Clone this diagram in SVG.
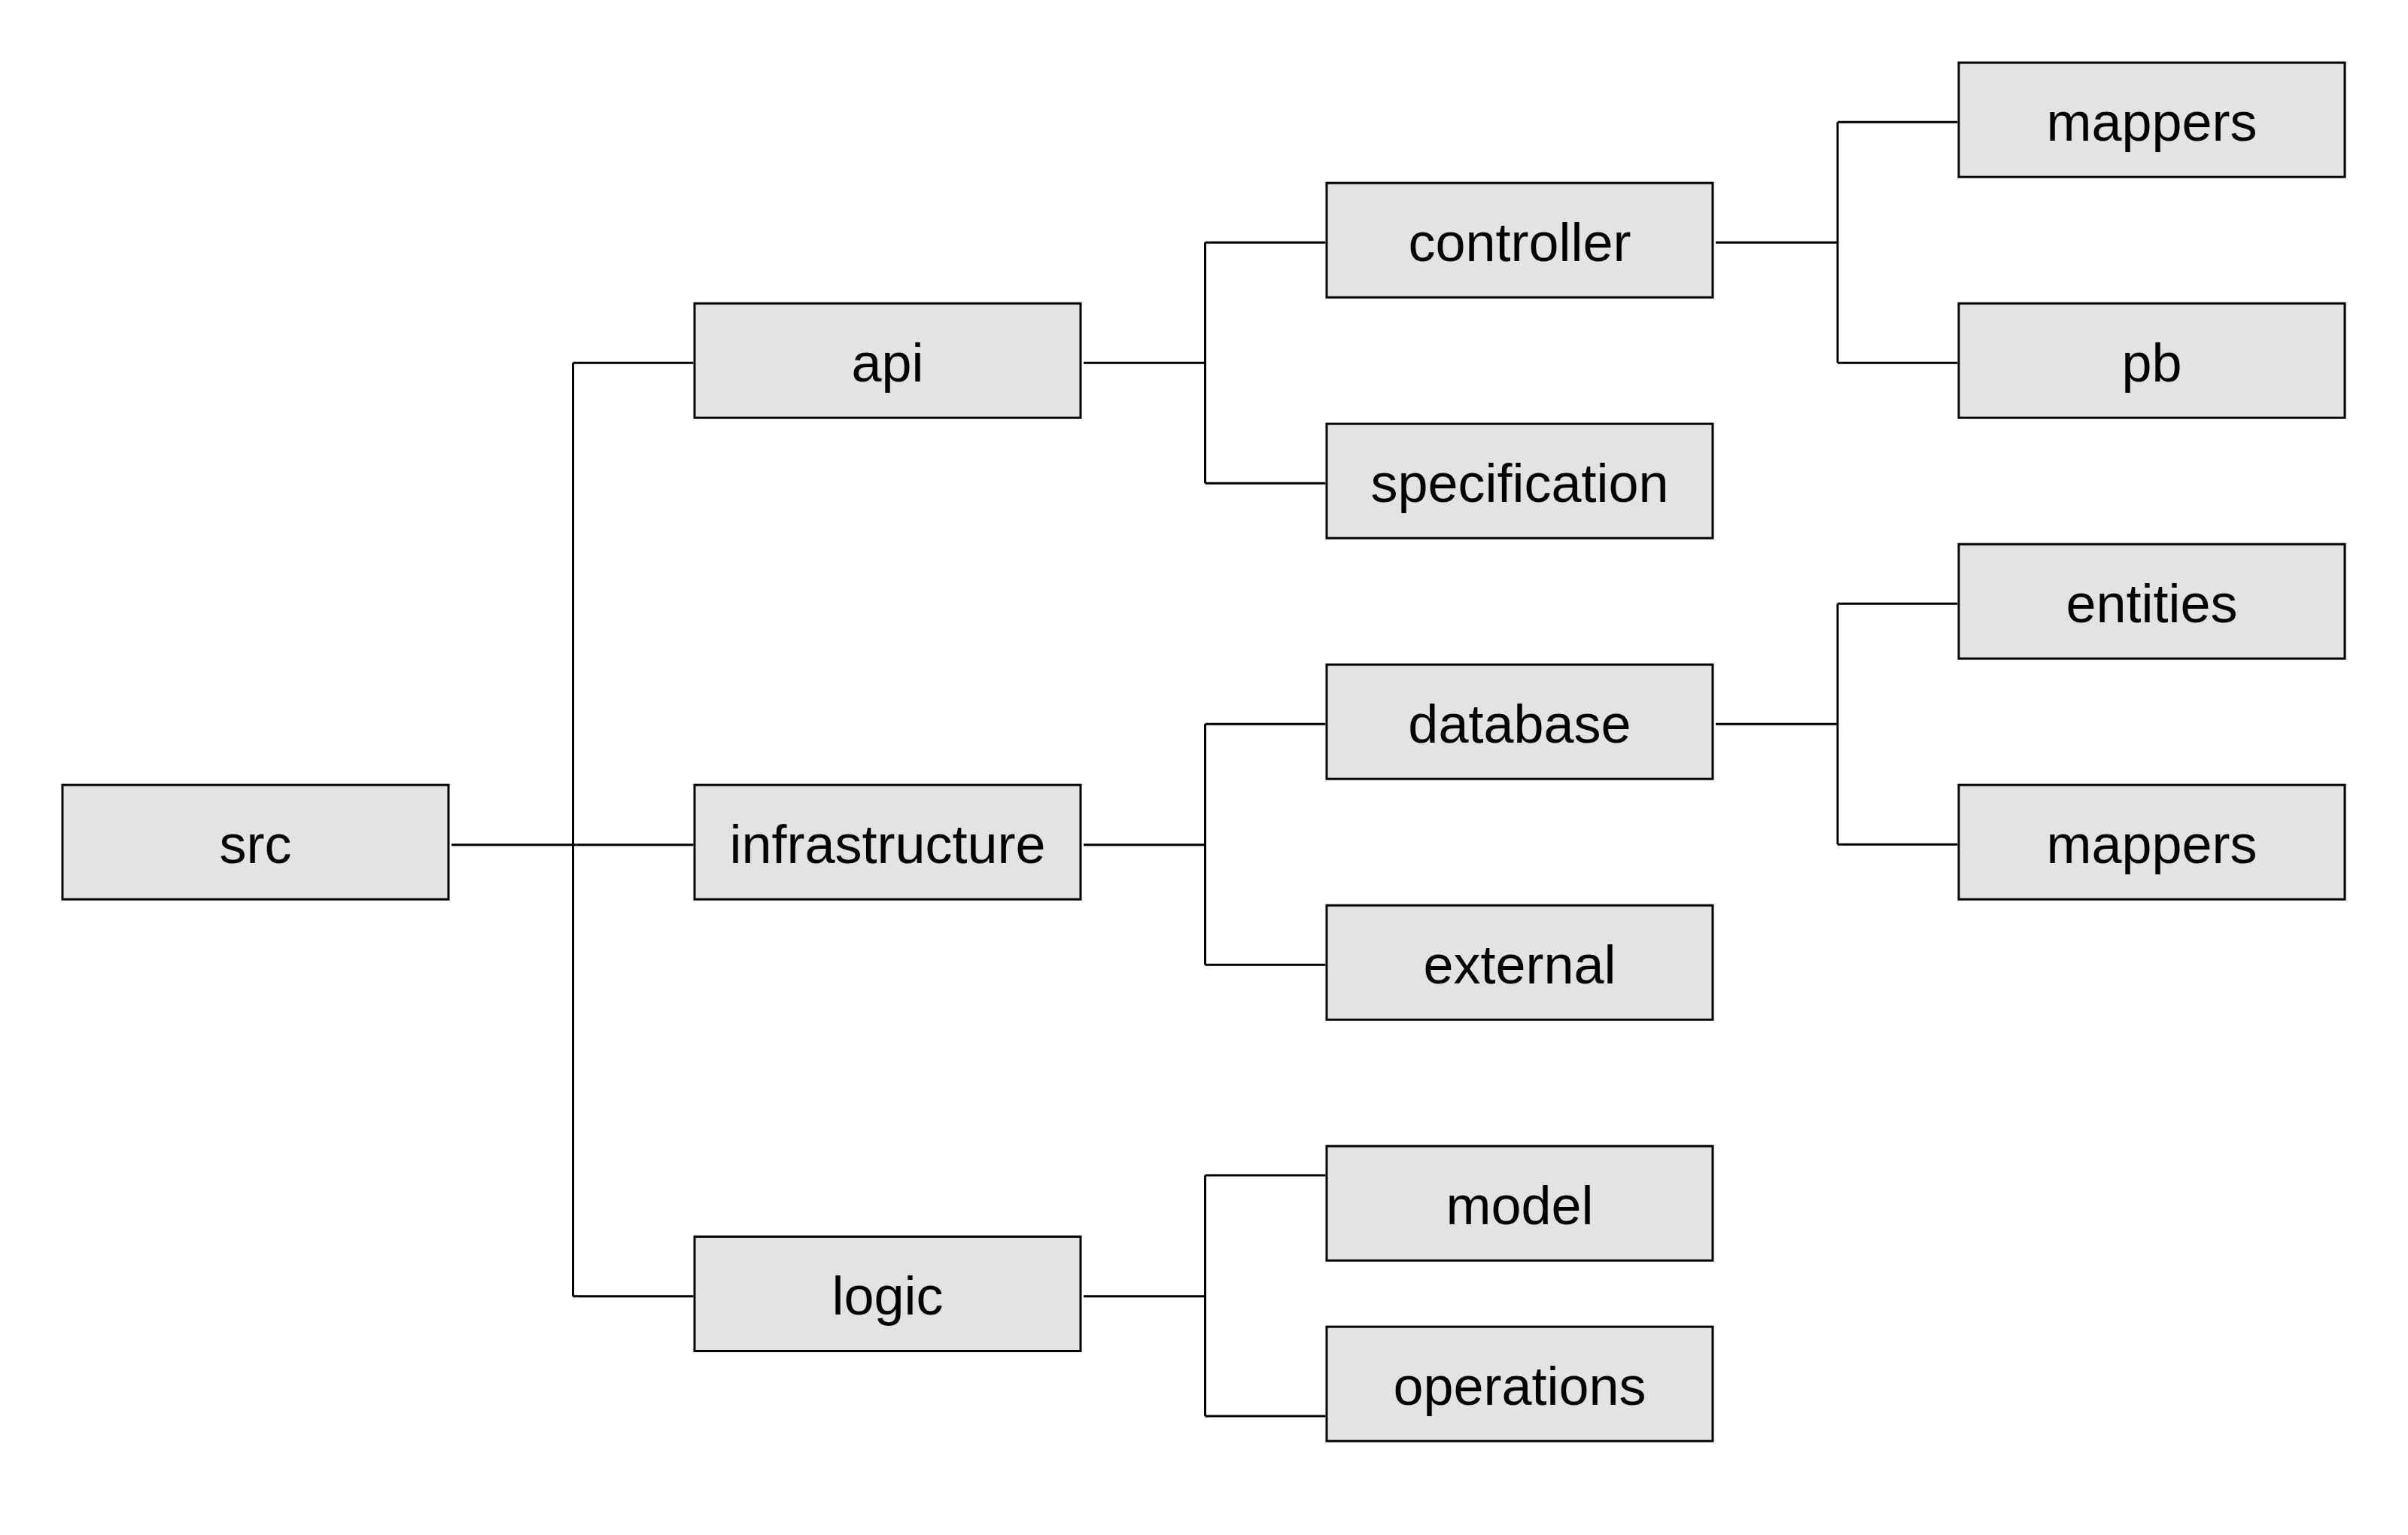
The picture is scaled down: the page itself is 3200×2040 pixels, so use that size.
<svg xmlns="http://www.w3.org/2000/svg" width="3200" height="2040" viewBox="0 0 3200 2040">
<style>
.box rect{fill:#e3e3e3;stroke:#000;stroke-width:3}
.box text{font-family:"Liberation Sans",Arial,sans-serif;font-size:72px;fill:#000;text-anchor:middle}
#connectors path{fill:none;stroke:#000;stroke-width:3}
</style>
<rect width="3200" height="2040" fill="#fff"/>
<g id="connectors">
<path d="M600 1122.7H921.5M761.5 482.2V1722.7M761.5 482.2H921.5M761.5 1722.7H921.5"/>
<path d="M1440 482.2H1601.5M1601.5 322.2V642.2M1601.5 322.2H1761.5M1601.5 642.2H1761.5"/>
<path d="M1440 1122.7H1601.5M1601.5 962.2V1282.2M1601.5 962.2H1761.5M1601.5 1282.2H1761.5"/>
<path d="M1440 1722.7H1601.5M1601.5 1562V1882M1601.5 1562H1761.5M1601.5 1882H1761.5"/>
<path d="M2280 322.2H2442M2442 162.2V482.2M2442 162.2H2601.5M2442 482.2H2601.5"/>
<path d="M2280 962.2H2442M2442 802.2V1122.2M2442 802.2H2601.5M2442 1122.2H2601.5"/>
</g>
<g id="src" class="box"><rect x="83" y="1043.2" width="513" height="152"/><text x="339.5" y="1146.7">src</text></g>
<g id="api" class="box"><rect x="923" y="403.2" width="513" height="152"/><text x="1179.5" y="506.7">api</text></g>
<g id="infrastructure" class="box"><rect x="923" y="1043.2" width="513" height="152"/><text x="1179.5" y="1146.7">infrastructure</text></g>
<g id="logic" class="box"><rect x="923" y="1643.5" width="513" height="152"/><text x="1179.5" y="1747">logic</text></g>
<g id="controller" class="box"><rect x="1763" y="243.2" width="513" height="152"/><text x="2019.5" y="346.7">controller</text></g>
<g id="specification" class="box"><rect x="1763" y="563.2" width="513" height="152"/><text x="2019.5" y="666.7">specification</text></g>
<g id="database" class="box"><rect x="1763" y="883.2" width="513" height="152"/><text x="2019.5" y="986.7">database</text></g>
<g id="external" class="box"><rect x="1763" y="1203.2" width="513" height="152"/><text x="2019.5" y="1306.7">external</text></g>
<g id="model" class="box"><rect x="1763" y="1523.2" width="513" height="152"/><text x="2019.5" y="1626.7">model</text></g>
<g id="operations" class="box"><rect x="1763" y="1763.2" width="513" height="152"/><text x="2019.5" y="1866.7">operations</text></g>
<g id="mappers-api" class="box"><rect x="2603" y="83.2" width="513" height="152"/><text x="2859.5" y="186.7">mappers</text></g>
<g id="pb" class="box"><rect x="2603" y="403.2" width="513" height="152"/><text x="2859.5" y="506.7">pb</text></g>
<g id="entities" class="box"><rect x="2603" y="723.2" width="513" height="152"/><text x="2859.5" y="826.7">entities</text></g>
<g id="mappers-db" class="box"><rect x="2603" y="1043.2" width="513" height="152"/><text x="2859.5" y="1146.7">mappers</text></g>
</svg>
